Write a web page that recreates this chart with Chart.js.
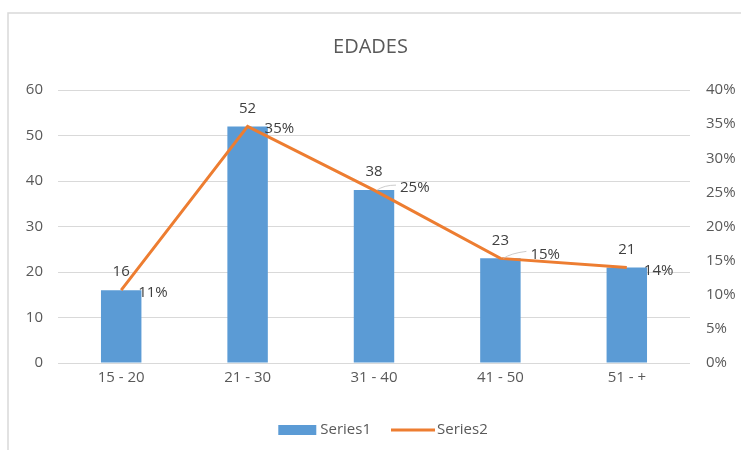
<!DOCTYPE html>
<html>
<head>
<meta charset="utf-8">
<script src="https://cdn.jsdelivr.net/npm/chart.js@4/dist/chart.umd.min.js"></script>
<style>
  html, body { margin: 0; padding: 0; background: #fff; }
  #wrap { width: 741px; height: 450px; position: relative; }
</style>
</head>
<body>
<div id="wrap"><canvas id="c" width="741" height="450"></canvas></div>
<script>
const categories = ['15 - 20', '21 - 30', '31 - 40', '41 - 50', '51 - +'];
const series1 = [16, 52, 38, 23, 21];
const series2 = [0.1067, 0.3467, 0.2533, 0.1533, 0.14];
const seriesNames = ['Series1', 'Series2'];
const leftTicks = [0, 10, 20, 30, 40, 50, 60];
const rightTicks = [0, 0.05, 0.10, 0.15, 0.20, 0.25, 0.30, 0.35, 0.40];

const TXT = '#595959';
const LBL = '#404040';
const BLUE = '#5b9bd5';
const ORANGE = '#ed7d31';
const FONT = "'Open Sans', 'Noto Sans', sans-serif";

const framePlugin = {
  id: 'frame',
  beforeDraw(chart) {
    const ctx = chart.ctx;
    ctx.save();
    ctx.strokeStyle = '#d9d9d9';
    ctx.lineWidth = 1.5;
    ctx.beginPath();
    ctx.moveTo(8, 460);
    ctx.lineTo(8, 13);
    ctx.lineTo(760, 13);
    ctx.stroke();
    ctx.restore();
  }
};

const legendPlugin = {
  id: 'excelLegend',
  afterDraw(chart) {
    const ctx = chart.ctx;
    const ca = chart.chartArea;
    const cy = ca.bottom + 67;
    ctx.save();
    ctx.font = "15px " + FONT;
    ctx.textBaseline = 'middle';
    ctx.textAlign = 'left';
    const w1 = ctx.measureText(seriesNames[0]).width;
    const w2 = ctx.measureText(seriesNames[1]).width;
    const total = 38 + 4 + w1 + 20 + 44 + 2 + w2;
    let x = (ca.left + ca.right) / 2 + 9 - total / 2;
    ctx.fillStyle = BLUE;
    ctx.fillRect(x, cy - 5, 38, 10);
    x += 38 + 4;
    ctx.fillStyle = TXT;
    ctx.fillText(seriesNames[0], x, cy);
    x += w1 + 20;
    ctx.strokeStyle = ORANGE;
    ctx.lineWidth = 3;
    ctx.beginPath();
    ctx.moveTo(x, cy);
    ctx.lineTo(x + 44, cy);
    ctx.stroke();
    x += 44 + 2;
    ctx.fillText(seriesNames[1], x, cy);
    ctx.restore();
  }
};

const labelPlugin = {
  id: 'dataLabels',
  afterDatasetsDraw(chart) {
    const ctx = chart.ctx;
    ctx.save();
    ctx.font = "15px " + FONT;
    ctx.fillStyle = LBL;
    const barMeta = chart.getDatasetMeta(0);
    barMeta.data.forEach((el, i) => {
      ctx.textAlign = 'center';
      ctx.textBaseline = 'middle';
      ctx.fillText(String(series1[i]), el.x, el.y - 18);
    });
    const dx = [17, 17, 26, 30, 17];
    const dy = [3, 2, -2, -4, 3];
    const lineMeta = chart.getDatasetMeta(1);
    lineMeta.data.forEach((el, i) => {
      if (i === 2 || i === 3) {
        ctx.save();
        ctx.strokeStyle = '#bfbfbf';
        ctx.lineWidth = 0.8;
        ctx.beginPath();
        ctx.moveTo(el.x + 3, el.y);
        ctx.quadraticCurveTo(el.x + 10, el.y - 5, el.x + dx[i] - 4, el.y + dy[i] - 3);
        ctx.stroke();
        ctx.restore();
      }
      ctx.textAlign = 'left';
      ctx.textBaseline = 'middle';
      ctx.fillText(Math.round(series2[i] * 100) + '%', el.x + dx[i], el.y + dy[i]);
    });
    ctx.restore();
  }
};

new Chart(document.getElementById('c'), {
  data: {
    labels: categories,
    datasets: [
      {
        type: 'bar',
        label: seriesNames[0],
        data: series1,
        backgroundColor: BLUE,
        borderWidth: 0,
        yAxisID: 'y',
        categoryPercentage: 1,
        barPercentage: 0.32,
        order: 2
      },
      {
        type: 'line',
        label: seriesNames[1],
        data: series2,
        borderColor: ORANGE,
        backgroundColor: ORANGE,
        borderWidth: 3,
        pointRadius: 0,
        tension: 0,
        yAxisID: 'y1',
        order: 1
      }
    ]
  },
  options: {
    responsive: false,
    animation: false,
    devicePixelRatio: 1,
    layout: { padding: { left: 0, right: 0, top: 0, bottom: 52 } },
    plugins: {
      tooltip: { enabled: false },
      legend: { display: false },
      title: {
        display: true,
        text: 'EDADES',
        color: TXT,
        font: { family: FONT, size: 20, weight: 'normal', lineHeight: 1.2 },
        padding: { top: 35, bottom: 31 }
      }
    },
    scales: {
      x: {
        grid: { display: false, drawTicks: false },
        border: { display: false },
        ticks: { color: TXT, font: { family: FONT, size: 15 }, padding: 6 },
        afterFit(scale) { scale.height = 35; }
      },
      y: {
        position: 'left',
        min: 0,
        max: 60,
        afterBuildTicks(scale) { scale.ticks = leftTicks.map(v => ({ value: v })); },
        grid: { color: '#d9d9d9', lineWidth: 1, drawTicks: false },
        border: { display: false },
        ticks: { color: TXT, font: { family: FONT, size: 15 }, padding: 15 },
        afterFit(scale) { scale.width = 58; }
      },
      y1: {
        position: 'right',
        min: 0,
        max: 0.4,
        afterBuildTicks(scale) { scale.ticks = rightTicks.map(v => ({ value: v })); },
        grid: { display: false, drawTicks: false },
        border: { display: false },
        ticks: {
          color: TXT,
          font: { family: FONT, size: 15 },
          padding: 16,
          callback: v => Math.round(v * 100) + '%'
        },
        afterFit(scale) { scale.width = 51; }
      }
    }
  },
  plugins: [framePlugin, labelPlugin, legendPlugin]
});
</script>
</body>
</html>
